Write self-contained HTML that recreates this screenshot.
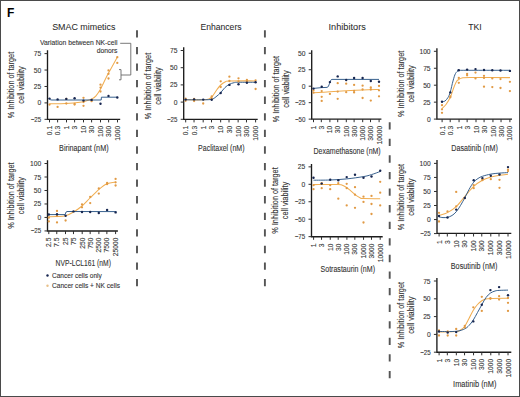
<!DOCTYPE html>
<html><head><meta charset="utf-8"><style>
html,body{margin:0;padding:0;background:#fff;}
.wrap{position:relative;width:520px;height:397px;overflow:hidden;background:#fff;}
svg{position:absolute;left:0;top:0;font-family:"Liberation Sans",sans-serif;}

.b{position:absolute;left:0;top:0;width:520px;height:397px;box-sizing:border-box;border:1px solid #4a4a4a;}
</style></head><body><div class="wrap">
<svg width="520" height="397" viewBox="0 0 520 397">
<path d="M47.50,50.30 V119.30 H120.20" fill="none" stroke="#1c1c1c" stroke-width="1.35"/>
<path d="M44.50,53.61 H47.50" stroke="#2e2e2e" stroke-width="1.0"/>
<text x="41.20" y="56.11" font-size="7.2" text-anchor="end" fill="#333333" textLength="7.45" lengthAdjust="spacingAndGlyphs" stroke="#333333" stroke-width="0.1">75</text>
<path d="M44.50,70.04 H47.50" stroke="#2e2e2e" stroke-width="1.0"/>
<text x="41.20" y="72.54" font-size="7.2" text-anchor="end" fill="#333333" textLength="7.45" lengthAdjust="spacingAndGlyphs" stroke="#333333" stroke-width="0.1">50</text>
<path d="M44.50,86.47 H47.50" stroke="#2e2e2e" stroke-width="1.0"/>
<text x="41.20" y="88.97" font-size="7.2" text-anchor="end" fill="#333333" textLength="7.45" lengthAdjust="spacingAndGlyphs" stroke="#333333" stroke-width="0.1">25</text>
<path d="M44.50,102.90 H47.50" stroke="#2e2e2e" stroke-width="1.0"/>
<text x="41.20" y="105.40" font-size="7.2" text-anchor="end" fill="#333333" textLength="3.72" lengthAdjust="spacingAndGlyphs" stroke="#333333" stroke-width="0.1">0</text>
<path d="M44.50,119.33 H47.50" stroke="#2e2e2e" stroke-width="1.0"/>
<text x="41.20" y="121.83" font-size="7.2" text-anchor="end" fill="#333333" textLength="10.46" lengthAdjust="spacingAndGlyphs" stroke="#333333" stroke-width="0.1">−25</text>
<path d="M49.50,119.30 V122.40" stroke="#2e2e2e" stroke-width="1.0"/>
<text transform="translate(52.05,125.90) rotate(-90)" font-size="7.7" text-anchor="end" fill="#333333" textLength="9.31" lengthAdjust="spacingAndGlyphs" stroke="#333333" stroke-width="0.1">0.1</text>
<path d="M57.61,119.30 V122.40" stroke="#2e2e2e" stroke-width="1.0"/>
<text transform="translate(60.16,125.90) rotate(-90)" font-size="7.7" text-anchor="end" fill="#333333" textLength="9.31" lengthAdjust="spacingAndGlyphs" stroke="#333333" stroke-width="0.1">0.3</text>
<path d="M66.50,119.30 V122.40" stroke="#2e2e2e" stroke-width="1.0"/>
<text transform="translate(69.05,125.90) rotate(-90)" font-size="7.7" text-anchor="end" fill="#333333" textLength="3.72" lengthAdjust="spacingAndGlyphs" stroke="#333333" stroke-width="0.1">1</text>
<path d="M74.61,119.30 V122.40" stroke="#2e2e2e" stroke-width="1.0"/>
<text transform="translate(77.16,125.90) rotate(-90)" font-size="7.7" text-anchor="end" fill="#333333" textLength="3.72" lengthAdjust="spacingAndGlyphs" stroke="#333333" stroke-width="0.1">3</text>
<path d="M83.50,119.30 V122.40" stroke="#2e2e2e" stroke-width="1.0"/>
<text transform="translate(86.05,125.90) rotate(-90)" font-size="7.7" text-anchor="end" fill="#333333" textLength="7.45" lengthAdjust="spacingAndGlyphs" stroke="#333333" stroke-width="0.1">10</text>
<path d="M91.61,119.30 V122.40" stroke="#2e2e2e" stroke-width="1.0"/>
<text transform="translate(94.16,125.90) rotate(-90)" font-size="7.7" text-anchor="end" fill="#333333" textLength="7.45" lengthAdjust="spacingAndGlyphs" stroke="#333333" stroke-width="0.1">30</text>
<path d="M100.50,119.30 V122.40" stroke="#2e2e2e" stroke-width="1.0"/>
<text transform="translate(103.05,125.90) rotate(-90)" font-size="7.7" text-anchor="end" fill="#333333" textLength="11.17" lengthAdjust="spacingAndGlyphs" stroke="#333333" stroke-width="0.1">100</text>
<path d="M108.61,119.30 V122.40" stroke="#2e2e2e" stroke-width="1.0"/>
<text transform="translate(111.16,125.90) rotate(-90)" font-size="7.7" text-anchor="end" fill="#333333" textLength="11.17" lengthAdjust="spacingAndGlyphs" stroke="#333333" stroke-width="0.1">300</text>
<path d="M117.50,119.30 V122.40" stroke="#2e2e2e" stroke-width="1.0"/>
<text transform="translate(120.05,125.90) rotate(-90)" font-size="7.7" text-anchor="end" fill="#333333" textLength="14.90" lengthAdjust="spacingAndGlyphs" stroke="#333333" stroke-width="0.1">1000</text>
<text x="83.85" y="150.90" font-size="8.3" text-anchor="middle" fill="#333333" textLength="49.50" lengthAdjust="spacingAndGlyphs" stroke="#333333" stroke-width="0.1">Birinapant (nM)</text>
<text transform="translate(14.30,85.00) rotate(-90)" font-size="8.5" text-anchor="middle" fill="#333333" textLength="66.30" lengthAdjust="spacingAndGlyphs" stroke="#333333" stroke-width="0.1">% Inhibition of target</text>
<text transform="translate(24.30,85.00) rotate(-90)" font-size="8.5" text-anchor="middle" fill="#333333" textLength="37.30" lengthAdjust="spacingAndGlyphs" stroke="#333333" stroke-width="0.1">cell viability</text>
<path d="M49.50,103.80 C52.25,103.75 60.92,103.77 66.00,103.50 C71.08,103.23 76.33,102.73 80.00,102.20 C83.67,101.67 86.00,100.85 88.00,100.30 C90.00,99.75 90.67,99.65 92.00,98.90 C93.33,98.15 94.67,97.27 96.00,95.80 C97.33,94.33 98.67,92.42 100.00,90.10 C101.33,87.78 102.58,84.73 104.00,81.90 C105.42,79.07 107.00,75.93 108.50,73.10 C110.00,70.27 111.53,67.55 113.00,64.90 C114.47,62.25 116.58,58.48 117.30,57.20" fill="none" stroke="#f1ae52" stroke-width="1.05"/>
<path d="M49.3,98.3 C49.8,99.6 50.6,100.0 52,100.0 L101.2,100.0 L101.4,97.2 L117.5,97.2" fill="none" stroke="#2d5888" stroke-width="0.95"/>
<circle cx="49.50" cy="104.60" r="1.15" fill="#e19a45"/>
<circle cx="57.60" cy="106.90" r="1.15" fill="#e19a45"/>
<circle cx="66.30" cy="103.50" r="1.15" fill="#e19a45"/>
<circle cx="66.30" cy="98.80" r="1.15" fill="#e19a45"/>
<circle cx="74.60" cy="103.80" r="1.15" fill="#e19a45"/>
<circle cx="74.60" cy="104.60" r="1.15" fill="#e19a45"/>
<circle cx="83.50" cy="97.80" r="1.15" fill="#e19a45"/>
<circle cx="83.50" cy="105.80" r="1.15" fill="#e19a45"/>
<circle cx="83.50" cy="102.10" r="1.15" fill="#e19a45"/>
<circle cx="91.60" cy="101.20" r="1.15" fill="#e19a45"/>
<circle cx="100.50" cy="84.70" r="1.15" fill="#e19a45"/>
<circle cx="100.50" cy="87.60" r="1.15" fill="#e19a45"/>
<circle cx="100.50" cy="91.50" r="1.15" fill="#e19a45"/>
<circle cx="108.50" cy="70.40" r="1.15" fill="#e19a45"/>
<circle cx="108.50" cy="73.80" r="1.15" fill="#e19a45"/>
<circle cx="108.50" cy="78.50" r="1.15" fill="#e19a45"/>
<circle cx="117.30" cy="57.20" r="1.15" fill="#e19a45"/>
<circle cx="117.30" cy="62.90" r="1.15" fill="#e19a45"/>
<circle cx="49.50" cy="98.60" r="1.2" fill="#172650"/>
<circle cx="57.60" cy="99.40" r="1.2" fill="#172650"/>
<circle cx="66.30" cy="98.90" r="1.2" fill="#172650"/>
<circle cx="74.60" cy="98.20" r="1.2" fill="#172650"/>
<circle cx="83.50" cy="100.60" r="1.2" fill="#172650"/>
<circle cx="91.60" cy="99.90" r="1.2" fill="#172650"/>
<circle cx="100.50" cy="103.70" r="1.2" fill="#172650"/>
<circle cx="108.50" cy="95.90" r="1.2" fill="#172650"/>
<circle cx="117.30" cy="97.50" r="1.2" fill="#172650"/>
<path d="M47.50,160.30 V231.00 H117.90" fill="none" stroke="#1c1c1c" stroke-width="1.35"/>
<path d="M44.50,163.53 H47.50" stroke="#2e2e2e" stroke-width="1.0"/>
<text x="41.20" y="166.03" font-size="7.2" text-anchor="end" fill="#333333" textLength="11.17" lengthAdjust="spacingAndGlyphs" stroke="#333333" stroke-width="0.1">100</text>
<path d="M44.50,177.01 H47.50" stroke="#2e2e2e" stroke-width="1.0"/>
<text x="41.20" y="179.51" font-size="7.2" text-anchor="end" fill="#333333" textLength="7.45" lengthAdjust="spacingAndGlyphs" stroke="#333333" stroke-width="0.1">75</text>
<path d="M44.50,190.49 H47.50" stroke="#2e2e2e" stroke-width="1.0"/>
<text x="41.20" y="192.99" font-size="7.2" text-anchor="end" fill="#333333" textLength="7.45" lengthAdjust="spacingAndGlyphs" stroke="#333333" stroke-width="0.1">50</text>
<path d="M44.50,203.97 H47.50" stroke="#2e2e2e" stroke-width="1.0"/>
<text x="41.20" y="206.47" font-size="7.2" text-anchor="end" fill="#333333" textLength="7.45" lengthAdjust="spacingAndGlyphs" stroke="#333333" stroke-width="0.1">25</text>
<path d="M44.50,217.45 H47.50" stroke="#2e2e2e" stroke-width="1.0"/>
<text x="41.20" y="219.95" font-size="7.2" text-anchor="end" fill="#333333" textLength="3.72" lengthAdjust="spacingAndGlyphs" stroke="#333333" stroke-width="0.1">0</text>
<path d="M44.50,230.93 H47.50" stroke="#2e2e2e" stroke-width="1.0"/>
<text x="41.20" y="233.43" font-size="7.2" text-anchor="end" fill="#333333" textLength="10.46" lengthAdjust="spacingAndGlyphs" stroke="#333333" stroke-width="0.1">−25</text>
<path d="M48.80,231.00 V234.10" stroke="#2e2e2e" stroke-width="1.0"/>
<text transform="translate(51.35,237.60) rotate(-90)" font-size="7.7" text-anchor="end" fill="#333333" textLength="9.31" lengthAdjust="spacingAndGlyphs" stroke="#333333" stroke-width="0.1">2.5</text>
<path d="M56.77,231.00 V234.10" stroke="#2e2e2e" stroke-width="1.0"/>
<text transform="translate(59.32,237.60) rotate(-90)" font-size="7.7" text-anchor="end" fill="#333333" textLength="9.31" lengthAdjust="spacingAndGlyphs" stroke="#333333" stroke-width="0.1">7.5</text>
<path d="M65.50,231.00 V234.10" stroke="#2e2e2e" stroke-width="1.0"/>
<text transform="translate(68.05,237.60) rotate(-90)" font-size="7.7" text-anchor="end" fill="#333333" textLength="7.45" lengthAdjust="spacingAndGlyphs" stroke="#333333" stroke-width="0.1">25</text>
<path d="M73.47,231.00 V234.10" stroke="#2e2e2e" stroke-width="1.0"/>
<text transform="translate(76.02,237.60) rotate(-90)" font-size="7.7" text-anchor="end" fill="#333333" textLength="7.45" lengthAdjust="spacingAndGlyphs" stroke="#333333" stroke-width="0.1">75</text>
<path d="M82.20,231.00 V234.10" stroke="#2e2e2e" stroke-width="1.0"/>
<text transform="translate(84.75,237.60) rotate(-90)" font-size="7.7" text-anchor="end" fill="#333333" textLength="11.17" lengthAdjust="spacingAndGlyphs" stroke="#333333" stroke-width="0.1">250</text>
<path d="M90.17,231.00 V234.10" stroke="#2e2e2e" stroke-width="1.0"/>
<text transform="translate(92.72,237.60) rotate(-90)" font-size="7.7" text-anchor="end" fill="#333333" textLength="11.17" lengthAdjust="spacingAndGlyphs" stroke="#333333" stroke-width="0.1">750</text>
<path d="M98.90,231.00 V234.10" stroke="#2e2e2e" stroke-width="1.0"/>
<text transform="translate(101.45,237.60) rotate(-90)" font-size="7.7" text-anchor="end" fill="#333333" textLength="14.90" lengthAdjust="spacingAndGlyphs" stroke="#333333" stroke-width="0.1">2500</text>
<path d="M106.87,231.00 V234.10" stroke="#2e2e2e" stroke-width="1.0"/>
<text transform="translate(109.42,237.60) rotate(-90)" font-size="7.7" text-anchor="end" fill="#333333" textLength="14.90" lengthAdjust="spacingAndGlyphs" stroke="#333333" stroke-width="0.1">7500</text>
<path d="M115.60,231.00 V234.10" stroke="#2e2e2e" stroke-width="1.0"/>
<text transform="translate(118.15,237.60) rotate(-90)" font-size="7.7" text-anchor="end" fill="#333333" textLength="18.62" lengthAdjust="spacingAndGlyphs" stroke="#333333" stroke-width="0.1">25000</text>
<text x="83.25" y="265.60" font-size="8.3" text-anchor="middle" fill="#333333" textLength="55.30" lengthAdjust="spacingAndGlyphs" stroke="#333333" stroke-width="0.1">NVP-LCL161 (nM)</text>
<text transform="translate(14.30,195.65) rotate(-90)" font-size="8.5" text-anchor="middle" fill="#333333" textLength="66.30" lengthAdjust="spacingAndGlyphs" stroke="#333333" stroke-width="0.1">% Inhibition of target</text>
<text transform="translate(24.30,195.65) rotate(-90)" font-size="8.5" text-anchor="middle" fill="#333333" textLength="37.30" lengthAdjust="spacingAndGlyphs" stroke="#333333" stroke-width="0.1">cell viability</text>
<path d="M48.50,216.80 C49.92,216.77 54.15,216.77 57.00,216.60 C59.85,216.43 62.85,216.57 65.60,215.80 C68.35,215.03 70.77,213.63 73.50,212.00 C76.23,210.37 79.25,208.33 82.00,206.00 C84.75,203.67 87.17,200.78 90.00,198.00 C92.83,195.22 96.17,191.67 99.00,189.30 C101.83,186.93 104.17,185.02 107.00,183.80 C109.83,182.58 114.50,182.30 116.00,182.00" fill="none" stroke="#f1ae52" stroke-width="1.05"/>
<path d="M47.8,214.6 L65.0,214.6 C65.6,214.6 65.4,211.6 67,211.5 L116.5,211.6" fill="none" stroke="#2d5888" stroke-width="0.95"/>
<circle cx="48.80" cy="217.70" r="1.15" fill="#e19a45"/>
<circle cx="48.80" cy="221.40" r="1.15" fill="#e19a45"/>
<circle cx="57.00" cy="211.00" r="1.15" fill="#e19a45"/>
<circle cx="57.00" cy="222.40" r="1.15" fill="#e19a45"/>
<circle cx="57.00" cy="216.00" r="1.15" fill="#e19a45"/>
<circle cx="65.60" cy="220.50" r="1.15" fill="#e19a45"/>
<circle cx="82.00" cy="204.40" r="1.15" fill="#e19a45"/>
<circle cx="82.00" cy="207.30" r="1.15" fill="#e19a45"/>
<circle cx="90.20" cy="196.90" r="1.15" fill="#e19a45"/>
<circle cx="90.20" cy="203.10" r="1.15" fill="#e19a45"/>
<circle cx="98.80" cy="188.40" r="1.15" fill="#e19a45"/>
<circle cx="98.80" cy="193.60" r="1.15" fill="#e19a45"/>
<circle cx="107.10" cy="183.00" r="1.15" fill="#e19a45"/>
<circle cx="107.10" cy="184.20" r="1.15" fill="#e19a45"/>
<circle cx="115.60" cy="178.90" r="1.15" fill="#e19a45"/>
<circle cx="115.60" cy="182.30" r="1.15" fill="#e19a45"/>
<circle cx="115.60" cy="185.50" r="1.15" fill="#e19a45"/>
<circle cx="48.80" cy="214.50" r="1.2" fill="#172650"/>
<circle cx="57.00" cy="214.30" r="1.2" fill="#172650"/>
<circle cx="65.60" cy="215.80" r="1.2" fill="#172650"/>
<circle cx="73.50" cy="211.40" r="1.2" fill="#172650"/>
<circle cx="82.00" cy="212.00" r="1.2" fill="#172650"/>
<circle cx="90.20" cy="212.00" r="1.2" fill="#172650"/>
<circle cx="98.80" cy="213.00" r="1.2" fill="#172650"/>
<circle cx="107.10" cy="210.00" r="1.2" fill="#172650"/>
<circle cx="115.60" cy="212.40" r="1.2" fill="#172650"/>
<path d="M183.70,47.30 V119.30 H257.70" fill="none" stroke="#1c1c1c" stroke-width="1.35"/>
<path d="M180.70,50.50 H183.70" stroke="#2e2e2e" stroke-width="1.0"/>
<text x="177.40" y="53.00" font-size="7.2" text-anchor="end" fill="#333333" textLength="7.45" lengthAdjust="spacingAndGlyphs" stroke="#333333" stroke-width="0.1">75</text>
<path d="M180.70,67.70 H183.70" stroke="#2e2e2e" stroke-width="1.0"/>
<text x="177.40" y="70.20" font-size="7.2" text-anchor="end" fill="#333333" textLength="7.45" lengthAdjust="spacingAndGlyphs" stroke="#333333" stroke-width="0.1">50</text>
<path d="M180.70,84.90 H183.70" stroke="#2e2e2e" stroke-width="1.0"/>
<text x="177.40" y="87.40" font-size="7.2" text-anchor="end" fill="#333333" textLength="7.45" lengthAdjust="spacingAndGlyphs" stroke="#333333" stroke-width="0.1">25</text>
<path d="M180.70,102.10 H183.70" stroke="#2e2e2e" stroke-width="1.0"/>
<text x="177.40" y="104.60" font-size="7.2" text-anchor="end" fill="#333333" textLength="3.72" lengthAdjust="spacingAndGlyphs" stroke="#333333" stroke-width="0.1">0</text>
<path d="M180.70,119.30 H183.70" stroke="#2e2e2e" stroke-width="1.0"/>
<text x="177.40" y="121.80" font-size="7.2" text-anchor="end" fill="#333333" textLength="10.46" lengthAdjust="spacingAndGlyphs" stroke="#333333" stroke-width="0.1">−25</text>
<path d="M185.70,119.30 V122.40" stroke="#2e2e2e" stroke-width="1.0"/>
<text transform="translate(188.25,125.90) rotate(-90)" font-size="7.7" text-anchor="end" fill="#333333" textLength="9.31" lengthAdjust="spacingAndGlyphs" stroke="#333333" stroke-width="0.1">0.1</text>
<path d="M194.04,119.30 V122.40" stroke="#2e2e2e" stroke-width="1.0"/>
<text transform="translate(196.59,125.90) rotate(-90)" font-size="7.7" text-anchor="end" fill="#333333" textLength="9.31" lengthAdjust="spacingAndGlyphs" stroke="#333333" stroke-width="0.1">0.3</text>
<path d="M203.18,119.30 V122.40" stroke="#2e2e2e" stroke-width="1.0"/>
<text transform="translate(205.73,125.90) rotate(-90)" font-size="7.7" text-anchor="end" fill="#333333" textLength="3.72" lengthAdjust="spacingAndGlyphs" stroke="#333333" stroke-width="0.1">1</text>
<path d="M211.52,119.30 V122.40" stroke="#2e2e2e" stroke-width="1.0"/>
<text transform="translate(214.07,125.90) rotate(-90)" font-size="7.7" text-anchor="end" fill="#333333" textLength="3.72" lengthAdjust="spacingAndGlyphs" stroke="#333333" stroke-width="0.1">3</text>
<path d="M220.66,119.30 V122.40" stroke="#2e2e2e" stroke-width="1.0"/>
<text transform="translate(223.21,125.90) rotate(-90)" font-size="7.7" text-anchor="end" fill="#333333" textLength="7.45" lengthAdjust="spacingAndGlyphs" stroke="#333333" stroke-width="0.1">10</text>
<path d="M229.00,119.30 V122.40" stroke="#2e2e2e" stroke-width="1.0"/>
<text transform="translate(231.55,125.90) rotate(-90)" font-size="7.7" text-anchor="end" fill="#333333" textLength="7.45" lengthAdjust="spacingAndGlyphs" stroke="#333333" stroke-width="0.1">30</text>
<path d="M238.14,119.30 V122.40" stroke="#2e2e2e" stroke-width="1.0"/>
<text transform="translate(240.69,125.90) rotate(-90)" font-size="7.7" text-anchor="end" fill="#333333" textLength="11.17" lengthAdjust="spacingAndGlyphs" stroke="#333333" stroke-width="0.1">100</text>
<path d="M246.48,119.30 V122.40" stroke="#2e2e2e" stroke-width="1.0"/>
<text transform="translate(249.03,125.90) rotate(-90)" font-size="7.7" text-anchor="end" fill="#333333" textLength="11.17" lengthAdjust="spacingAndGlyphs" stroke="#333333" stroke-width="0.1">300</text>
<path d="M255.62,119.30 V122.40" stroke="#2e2e2e" stroke-width="1.0"/>
<text transform="translate(258.17,125.90) rotate(-90)" font-size="7.7" text-anchor="end" fill="#333333" textLength="14.90" lengthAdjust="spacingAndGlyphs" stroke="#333333" stroke-width="0.1">1000</text>
<text x="221.30" y="150.90" font-size="8.3" text-anchor="middle" fill="#333333" textLength="46.40" lengthAdjust="spacingAndGlyphs" stroke="#333333" stroke-width="0.1">Paclitaxel (nM)</text>
<text transform="translate(150.50,86.00) rotate(-90)" font-size="8.5" text-anchor="middle" fill="#333333" textLength="66.30" lengthAdjust="spacingAndGlyphs" stroke="#333333" stroke-width="0.1">% Inhibition of target</text>
<text transform="translate(160.50,86.00) rotate(-90)" font-size="8.5" text-anchor="middle" fill="#333333" textLength="37.30" lengthAdjust="spacingAndGlyphs" stroke="#333333" stroke-width="0.1">cell viability</text>
<path d="M185.60,99.80 C188.50,99.80 199.10,99.93 203.00,99.80 C206.90,99.67 207.33,99.72 209.00,99.00 C210.67,98.28 211.67,97.08 213.00,95.50 C214.33,93.92 215.72,91.25 217.00,89.50 C218.28,87.75 219.37,86.25 220.70,85.00 C222.03,83.75 223.55,82.67 225.00,82.00 C226.45,81.33 224.23,81.18 229.40,81.00 C234.57,80.82 251.57,80.92 256.00,80.90" fill="none" stroke="#f1ae52" stroke-width="1.05"/>
<path d="M185.60,99.80 C188.50,99.80 198.65,99.88 203.00,99.80 C207.35,99.72 209.53,99.80 211.70,99.30 C213.87,98.80 214.50,97.92 216.00,96.80 C217.50,95.68 219.20,94.15 220.70,92.60 C222.20,91.05 223.55,88.88 225.00,87.50 C226.45,86.12 227.90,85.10 229.40,84.30 C230.90,83.50 232.48,83.03 234.00,82.70 C235.52,82.37 234.83,82.37 238.50,82.30 C242.17,82.23 253.08,82.30 256.00,82.30" fill="none" stroke="#2d5888" stroke-width="0.95"/>
<circle cx="185.60" cy="100.80" r="1.15" fill="#e19a45"/>
<circle cx="185.60" cy="98.60" r="1.15" fill="#e19a45"/>
<circle cx="194.10" cy="101.00" r="1.15" fill="#e19a45"/>
<circle cx="194.10" cy="98.80" r="1.15" fill="#e19a45"/>
<circle cx="203.20" cy="103.50" r="1.15" fill="#e19a45"/>
<circle cx="211.70" cy="98.40" r="1.15" fill="#e19a45"/>
<circle cx="211.70" cy="96.50" r="1.15" fill="#e19a45"/>
<circle cx="220.70" cy="81.30" r="1.15" fill="#e19a45"/>
<circle cx="220.70" cy="87.00" r="1.15" fill="#e19a45"/>
<circle cx="229.40" cy="76.70" r="1.15" fill="#e19a45"/>
<circle cx="229.40" cy="81.00" r="1.15" fill="#e19a45"/>
<circle cx="238.50" cy="78.30" r="1.15" fill="#e19a45"/>
<circle cx="238.50" cy="81.30" r="1.15" fill="#e19a45"/>
<circle cx="246.90" cy="81.30" r="1.15" fill="#e19a45"/>
<circle cx="246.90" cy="80.00" r="1.15" fill="#e19a45"/>
<circle cx="255.60" cy="80.30" r="1.15" fill="#e19a45"/>
<circle cx="255.60" cy="89.00" r="1.15" fill="#e19a45"/>
<circle cx="185.60" cy="99.60" r="1.2" fill="#172650"/>
<circle cx="194.10" cy="99.40" r="1.2" fill="#172650"/>
<circle cx="203.20" cy="99.60" r="1.2" fill="#172650"/>
<circle cx="211.70" cy="99.80" r="1.2" fill="#172650"/>
<circle cx="220.70" cy="93.00" r="1.2" fill="#172650"/>
<circle cx="229.40" cy="84.90" r="1.2" fill="#172650"/>
<circle cx="238.50" cy="84.30" r="1.2" fill="#172650"/>
<circle cx="246.90" cy="82.70" r="1.2" fill="#172650"/>
<circle cx="255.60" cy="82.30" r="1.2" fill="#172650"/>
<path d="M311.70,50.30 V119.10 H381.40" fill="none" stroke="#1c1c1c" stroke-width="1.35"/>
<path d="M308.70,53.26 H311.70" stroke="#2e2e2e" stroke-width="1.0"/>
<text x="305.40" y="55.76" font-size="7.2" text-anchor="end" fill="#333333" textLength="7.45" lengthAdjust="spacingAndGlyphs" stroke="#333333" stroke-width="0.1">50</text>
<path d="M308.70,69.73 H311.70" stroke="#2e2e2e" stroke-width="1.0"/>
<text x="305.40" y="72.23" font-size="7.2" text-anchor="end" fill="#333333" textLength="7.45" lengthAdjust="spacingAndGlyphs" stroke="#333333" stroke-width="0.1">25</text>
<path d="M308.70,86.20 H311.70" stroke="#2e2e2e" stroke-width="1.0"/>
<text x="305.40" y="88.70" font-size="7.2" text-anchor="end" fill="#333333" textLength="3.72" lengthAdjust="spacingAndGlyphs" stroke="#333333" stroke-width="0.1">0</text>
<path d="M308.70,102.67 H311.70" stroke="#2e2e2e" stroke-width="1.0"/>
<text x="305.40" y="105.17" font-size="7.2" text-anchor="end" fill="#333333" textLength="10.46" lengthAdjust="spacingAndGlyphs" stroke="#333333" stroke-width="0.1">−25</text>
<path d="M308.70,119.14 H311.70" stroke="#2e2e2e" stroke-width="1.0"/>
<text x="305.40" y="121.64" font-size="7.2" text-anchor="end" fill="#333333" textLength="10.46" lengthAdjust="spacingAndGlyphs" stroke="#333333" stroke-width="0.1">−50</text>
<path d="M313.50,119.10 V122.20" stroke="#2e2e2e" stroke-width="1.0"/>
<text transform="translate(316.05,125.90) rotate(-90)" font-size="7.7" text-anchor="end" fill="#333333" textLength="3.72" lengthAdjust="spacingAndGlyphs" stroke="#333333" stroke-width="0.1">1</text>
<path d="M321.32,119.10 V122.20" stroke="#2e2e2e" stroke-width="1.0"/>
<text transform="translate(323.87,125.90) rotate(-90)" font-size="7.7" text-anchor="end" fill="#333333" textLength="3.72" lengthAdjust="spacingAndGlyphs" stroke="#333333" stroke-width="0.1">3</text>
<path d="M329.90,119.10 V122.20" stroke="#2e2e2e" stroke-width="1.0"/>
<text transform="translate(332.45,125.90) rotate(-90)" font-size="7.7" text-anchor="end" fill="#333333" textLength="7.45" lengthAdjust="spacingAndGlyphs" stroke="#333333" stroke-width="0.1">10</text>
<path d="M337.72,119.10 V122.20" stroke="#2e2e2e" stroke-width="1.0"/>
<text transform="translate(340.27,125.90) rotate(-90)" font-size="7.7" text-anchor="end" fill="#333333" textLength="7.45" lengthAdjust="spacingAndGlyphs" stroke="#333333" stroke-width="0.1">30</text>
<path d="M346.30,119.10 V122.20" stroke="#2e2e2e" stroke-width="1.0"/>
<text transform="translate(348.85,125.90) rotate(-90)" font-size="7.7" text-anchor="end" fill="#333333" textLength="11.17" lengthAdjust="spacingAndGlyphs" stroke="#333333" stroke-width="0.1">100</text>
<path d="M354.12,119.10 V122.20" stroke="#2e2e2e" stroke-width="1.0"/>
<text transform="translate(356.67,125.90) rotate(-90)" font-size="7.7" text-anchor="end" fill="#333333" textLength="11.17" lengthAdjust="spacingAndGlyphs" stroke="#333333" stroke-width="0.1">300</text>
<path d="M362.70,119.10 V122.20" stroke="#2e2e2e" stroke-width="1.0"/>
<text transform="translate(365.25,125.90) rotate(-90)" font-size="7.7" text-anchor="end" fill="#333333" textLength="14.90" lengthAdjust="spacingAndGlyphs" stroke="#333333" stroke-width="0.1">1000</text>
<path d="M370.52,119.10 V122.20" stroke="#2e2e2e" stroke-width="1.0"/>
<text transform="translate(373.07,125.90) rotate(-90)" font-size="7.7" text-anchor="end" fill="#333333" textLength="14.90" lengthAdjust="spacingAndGlyphs" stroke="#333333" stroke-width="0.1">3000</text>
<path d="M379.10,119.10 V122.20" stroke="#2e2e2e" stroke-width="1.0"/>
<text transform="translate(381.65,125.90) rotate(-90)" font-size="7.7" text-anchor="end" fill="#333333" textLength="18.62" lengthAdjust="spacingAndGlyphs" stroke="#333333" stroke-width="0.1">10000</text>
<text x="347.10" y="154.30" font-size="8.3" text-anchor="middle" fill="#333333" textLength="67.20" lengthAdjust="spacingAndGlyphs" stroke="#333333" stroke-width="0.1">Dexamethasone (nM)</text>
<text transform="translate(278.50,89.05) rotate(-90)" font-size="8.5" text-anchor="middle" fill="#333333" textLength="66.30" lengthAdjust="spacingAndGlyphs" stroke="#333333" stroke-width="0.1">% Inhibition of target</text>
<text transform="translate(288.50,89.05) rotate(-90)" font-size="8.5" text-anchor="middle" fill="#333333" textLength="37.30" lengthAdjust="spacingAndGlyphs" stroke="#333333" stroke-width="0.1">cell viability</text>
<path d="M313.50,92.80 C316.25,92.63 324.58,92.13 330.00,91.80 C335.42,91.47 340.57,91.10 346.00,90.80 C351.43,90.50 357.10,90.22 362.60,90.00 C368.10,89.78 376.27,89.58 379.00,89.50" fill="none" stroke="#f1ae52" stroke-width="1.05"/>
<path d="M313.5,88.4 L321.7,87.6 L327,87.4 C329.5,87.3 329.5,79.4 332,79.4 L379,79.4" fill="none" stroke="#2d5888" stroke-width="0.95"/>
<circle cx="313.50" cy="90.30" r="1.15" fill="#e19a45"/>
<circle cx="313.50" cy="92.70" r="1.15" fill="#e19a45"/>
<circle cx="321.70" cy="91.10" r="1.15" fill="#e19a45"/>
<circle cx="321.70" cy="96.80" r="1.15" fill="#e19a45"/>
<circle cx="321.70" cy="100.90" r="1.15" fill="#e19a45"/>
<circle cx="329.90" cy="93.90" r="1.15" fill="#e19a45"/>
<circle cx="337.70" cy="83.20" r="1.15" fill="#e19a45"/>
<circle cx="337.70" cy="91.60" r="1.15" fill="#e19a45"/>
<circle cx="337.70" cy="98.80" r="1.15" fill="#e19a45"/>
<circle cx="346.20" cy="83.70" r="1.15" fill="#e19a45"/>
<circle cx="346.20" cy="92.20" r="1.15" fill="#e19a45"/>
<circle cx="354.10" cy="84.90" r="1.15" fill="#e19a45"/>
<circle cx="354.10" cy="90.80" r="1.15" fill="#e19a45"/>
<circle cx="354.10" cy="92.40" r="1.15" fill="#e19a45"/>
<circle cx="362.60" cy="85.70" r="1.15" fill="#e19a45"/>
<circle cx="362.60" cy="89.50" r="1.15" fill="#e19a45"/>
<circle cx="362.60" cy="98.00" r="1.15" fill="#e19a45"/>
<circle cx="370.80" cy="87.50" r="1.15" fill="#e19a45"/>
<circle cx="370.80" cy="89.50" r="1.15" fill="#e19a45"/>
<circle cx="370.80" cy="100.60" r="1.15" fill="#e19a45"/>
<circle cx="379.00" cy="85.90" r="1.15" fill="#e19a45"/>
<circle cx="379.00" cy="90.30" r="1.15" fill="#e19a45"/>
<circle cx="379.00" cy="96.30" r="1.15" fill="#e19a45"/>
<circle cx="313.50" cy="88.60" r="1.2" fill="#172650"/>
<circle cx="321.70" cy="86.70" r="1.2" fill="#172650"/>
<circle cx="329.90" cy="82.10" r="1.2" fill="#172650"/>
<circle cx="337.70" cy="76.40" r="1.2" fill="#172650"/>
<circle cx="346.20" cy="80.00" r="1.2" fill="#172650"/>
<circle cx="354.10" cy="78.00" r="1.2" fill="#172650"/>
<circle cx="362.60" cy="78.00" r="1.2" fill="#172650"/>
<circle cx="370.80" cy="81.00" r="1.2" fill="#172650"/>
<circle cx="379.00" cy="81.80" r="1.2" fill="#172650"/>
<path d="M311.50,164.00 V236.70 H382.70" fill="none" stroke="#1c1c1c" stroke-width="1.35"/>
<path d="M308.50,166.85 H311.50" stroke="#2e2e2e" stroke-width="1.0"/>
<text x="305.20" y="169.35" font-size="7.2" text-anchor="end" fill="#333333" textLength="7.45" lengthAdjust="spacingAndGlyphs" stroke="#333333" stroke-width="0.1">25</text>
<path d="M308.50,184.30 H311.50" stroke="#2e2e2e" stroke-width="1.0"/>
<text x="305.20" y="186.80" font-size="7.2" text-anchor="end" fill="#333333" textLength="3.72" lengthAdjust="spacingAndGlyphs" stroke="#333333" stroke-width="0.1">0</text>
<path d="M308.50,201.75 H311.50" stroke="#2e2e2e" stroke-width="1.0"/>
<text x="305.20" y="204.25" font-size="7.2" text-anchor="end" fill="#333333" textLength="10.46" lengthAdjust="spacingAndGlyphs" stroke="#333333" stroke-width="0.1">−25</text>
<path d="M308.50,219.20 H311.50" stroke="#2e2e2e" stroke-width="1.0"/>
<text x="305.20" y="221.70" font-size="7.2" text-anchor="end" fill="#333333" textLength="10.46" lengthAdjust="spacingAndGlyphs" stroke="#333333" stroke-width="0.1">−50</text>
<path d="M308.50,236.65 H311.50" stroke="#2e2e2e" stroke-width="1.0"/>
<text x="305.20" y="239.15" font-size="7.2" text-anchor="end" fill="#333333" textLength="10.46" lengthAdjust="spacingAndGlyphs" stroke="#333333" stroke-width="0.1">−75</text>
<path d="M313.60,236.70 V239.80" stroke="#2e2e2e" stroke-width="1.0"/>
<text transform="translate(316.15,243.60) rotate(-90)" font-size="7.7" text-anchor="end" fill="#333333" textLength="3.72" lengthAdjust="spacingAndGlyphs" stroke="#333333" stroke-width="0.1">1</text>
<path d="M321.54,236.70 V239.80" stroke="#2e2e2e" stroke-width="1.0"/>
<text transform="translate(324.09,243.60) rotate(-90)" font-size="7.7" text-anchor="end" fill="#333333" textLength="3.72" lengthAdjust="spacingAndGlyphs" stroke="#333333" stroke-width="0.1">3</text>
<path d="M330.25,236.70 V239.80" stroke="#2e2e2e" stroke-width="1.0"/>
<text transform="translate(332.80,243.60) rotate(-90)" font-size="7.7" text-anchor="end" fill="#333333" textLength="7.45" lengthAdjust="spacingAndGlyphs" stroke="#333333" stroke-width="0.1">10</text>
<path d="M338.19,236.70 V239.80" stroke="#2e2e2e" stroke-width="1.0"/>
<text transform="translate(340.74,243.60) rotate(-90)" font-size="7.7" text-anchor="end" fill="#333333" textLength="7.45" lengthAdjust="spacingAndGlyphs" stroke="#333333" stroke-width="0.1">30</text>
<path d="M346.90,236.70 V239.80" stroke="#2e2e2e" stroke-width="1.0"/>
<text transform="translate(349.45,243.60) rotate(-90)" font-size="7.7" text-anchor="end" fill="#333333" textLength="11.17" lengthAdjust="spacingAndGlyphs" stroke="#333333" stroke-width="0.1">100</text>
<path d="M354.84,236.70 V239.80" stroke="#2e2e2e" stroke-width="1.0"/>
<text transform="translate(357.39,243.60) rotate(-90)" font-size="7.7" text-anchor="end" fill="#333333" textLength="11.17" lengthAdjust="spacingAndGlyphs" stroke="#333333" stroke-width="0.1">300</text>
<path d="M363.55,236.70 V239.80" stroke="#2e2e2e" stroke-width="1.0"/>
<text transform="translate(366.10,243.60) rotate(-90)" font-size="7.7" text-anchor="end" fill="#333333" textLength="14.90" lengthAdjust="spacingAndGlyphs" stroke="#333333" stroke-width="0.1">1000</text>
<path d="M371.49,236.70 V239.80" stroke="#2e2e2e" stroke-width="1.0"/>
<text transform="translate(374.04,243.60) rotate(-90)" font-size="7.7" text-anchor="end" fill="#333333" textLength="14.90" lengthAdjust="spacingAndGlyphs" stroke="#333333" stroke-width="0.1">3000</text>
<path d="M380.20,236.70 V239.80" stroke="#2e2e2e" stroke-width="1.0"/>
<text transform="translate(382.75,243.60) rotate(-90)" font-size="7.7" text-anchor="end" fill="#333333" textLength="18.62" lengthAdjust="spacingAndGlyphs" stroke="#333333" stroke-width="0.1">10000</text>
<text x="347.75" y="271.60" font-size="8.3" text-anchor="middle" fill="#333333" textLength="54.50" lengthAdjust="spacingAndGlyphs" stroke="#333333" stroke-width="0.1">Sotrastaurin (nM)</text>
<text transform="translate(278.30,200.50) rotate(-90)" font-size="8.5" text-anchor="middle" fill="#333333" textLength="66.30" lengthAdjust="spacingAndGlyphs" stroke="#333333" stroke-width="0.1">% Inhibition of target</text>
<text transform="translate(288.30,200.50) rotate(-90)" font-size="8.5" text-anchor="middle" fill="#333333" textLength="37.30" lengthAdjust="spacingAndGlyphs" stroke="#333333" stroke-width="0.1">cell viability</text>
<path d="M313.50,184.60 C317.58,184.60 332.92,184.37 338.00,184.60 C343.08,184.83 342.00,185.07 344.00,186.00 C346.00,186.93 348.17,188.75 350.00,190.20 C351.83,191.65 353.33,193.43 355.00,194.70 C356.67,195.97 358.58,197.15 360.00,197.80 C361.42,198.45 360.13,198.45 363.50,198.60 C366.87,198.75 377.42,198.68 380.20,198.70" fill="none" stroke="#f1ae52" stroke-width="1.05"/>
<path d="M313.50,180.20 C316.25,180.17 324.47,180.22 330.00,180.00 C335.53,179.78 341.12,179.47 346.70,178.90 C352.28,178.33 359.37,177.32 363.50,176.60 C367.63,175.88 368.72,175.45 371.50,174.60 C374.28,173.75 378.75,172.02 380.20,171.50" fill="none" stroke="#2d5888" stroke-width="0.95"/>
<circle cx="313.50" cy="185.20" r="1.15" fill="#e19a45"/>
<circle cx="313.50" cy="189.20" r="1.15" fill="#e19a45"/>
<circle cx="321.70" cy="183.20" r="1.15" fill="#e19a45"/>
<circle cx="321.70" cy="188.20" r="1.15" fill="#e19a45"/>
<circle cx="330.20" cy="185.20" r="1.15" fill="#e19a45"/>
<circle cx="330.20" cy="189.20" r="1.15" fill="#e19a45"/>
<circle cx="338.30" cy="183.20" r="1.15" fill="#e19a45"/>
<circle cx="338.30" cy="198.70" r="1.15" fill="#e19a45"/>
<circle cx="346.70" cy="183.80" r="1.15" fill="#e19a45"/>
<circle cx="346.70" cy="188.20" r="1.15" fill="#e19a45"/>
<circle cx="346.70" cy="205.40" r="1.15" fill="#e19a45"/>
<circle cx="355.00" cy="187.20" r="1.15" fill="#e19a45"/>
<circle cx="355.00" cy="194.70" r="1.15" fill="#e19a45"/>
<circle cx="355.00" cy="207.80" r="1.15" fill="#e19a45"/>
<circle cx="363.50" cy="196.70" r="1.15" fill="#e19a45"/>
<circle cx="363.50" cy="201.90" r="1.15" fill="#e19a45"/>
<circle cx="363.50" cy="222.50" r="1.15" fill="#e19a45"/>
<circle cx="371.50" cy="195.90" r="1.15" fill="#e19a45"/>
<circle cx="371.50" cy="204.00" r="1.15" fill="#e19a45"/>
<circle cx="371.50" cy="214.00" r="1.15" fill="#e19a45"/>
<circle cx="380.20" cy="181.80" r="1.15" fill="#e19a45"/>
<circle cx="380.20" cy="192.70" r="1.15" fill="#e19a45"/>
<circle cx="380.20" cy="205.40" r="1.15" fill="#e19a45"/>
<circle cx="313.50" cy="177.70" r="1.2" fill="#172650"/>
<circle cx="321.70" cy="183.60" r="1.2" fill="#172650"/>
<circle cx="330.20" cy="179.80" r="1.2" fill="#172650"/>
<circle cx="338.30" cy="180.20" r="1.2" fill="#172650"/>
<circle cx="346.70" cy="177.10" r="1.2" fill="#172650"/>
<circle cx="355.00" cy="174.70" r="1.2" fill="#172650"/>
<circle cx="363.50" cy="177.70" r="1.2" fill="#172650"/>
<circle cx="371.50" cy="176.50" r="1.2" fill="#172650"/>
<circle cx="380.20" cy="170.70" r="1.2" fill="#172650"/>
<path d="M436.90,48.20 V119.10 H512.00" fill="none" stroke="#1c1c1c" stroke-width="1.35"/>
<path d="M433.90,51.30 H436.90" stroke="#2e2e2e" stroke-width="1.0"/>
<text x="430.60" y="53.80" font-size="7.2" text-anchor="end" fill="#333333" textLength="11.17" lengthAdjust="spacingAndGlyphs" stroke="#333333" stroke-width="0.1">100</text>
<path d="M433.90,68.25 H436.90" stroke="#2e2e2e" stroke-width="1.0"/>
<text x="430.60" y="70.75" font-size="7.2" text-anchor="end" fill="#333333" textLength="7.45" lengthAdjust="spacingAndGlyphs" stroke="#333333" stroke-width="0.1">75</text>
<path d="M433.90,85.20 H436.90" stroke="#2e2e2e" stroke-width="1.0"/>
<text x="430.60" y="87.70" font-size="7.2" text-anchor="end" fill="#333333" textLength="7.45" lengthAdjust="spacingAndGlyphs" stroke="#333333" stroke-width="0.1">50</text>
<path d="M433.90,102.15 H436.90" stroke="#2e2e2e" stroke-width="1.0"/>
<text x="430.60" y="104.65" font-size="7.2" text-anchor="end" fill="#333333" textLength="7.45" lengthAdjust="spacingAndGlyphs" stroke="#333333" stroke-width="0.1">25</text>
<path d="M433.90,119.10 H436.90" stroke="#2e2e2e" stroke-width="1.0"/>
<text x="430.60" y="121.60" font-size="7.2" text-anchor="end" fill="#333333" textLength="3.72" lengthAdjust="spacingAndGlyphs" stroke="#333333" stroke-width="0.1">0</text>
<path d="M442.10,119.10 V122.20" stroke="#2e2e2e" stroke-width="1.0"/>
<text transform="translate(444.65,125.90) rotate(-90)" font-size="7.7" text-anchor="end" fill="#333333" textLength="9.31" lengthAdjust="spacingAndGlyphs" stroke="#333333" stroke-width="0.1">0.1</text>
<path d="M450.19,119.10 V122.20" stroke="#2e2e2e" stroke-width="1.0"/>
<text transform="translate(452.74,125.90) rotate(-90)" font-size="7.7" text-anchor="end" fill="#333333" textLength="9.31" lengthAdjust="spacingAndGlyphs" stroke="#333333" stroke-width="0.1">0.3</text>
<path d="M459.05,119.10 V122.20" stroke="#2e2e2e" stroke-width="1.0"/>
<text transform="translate(461.60,125.90) rotate(-90)" font-size="7.7" text-anchor="end" fill="#333333" textLength="3.72" lengthAdjust="spacingAndGlyphs" stroke="#333333" stroke-width="0.1">1</text>
<path d="M467.14,119.10 V122.20" stroke="#2e2e2e" stroke-width="1.0"/>
<text transform="translate(469.69,125.90) rotate(-90)" font-size="7.7" text-anchor="end" fill="#333333" textLength="3.72" lengthAdjust="spacingAndGlyphs" stroke="#333333" stroke-width="0.1">3</text>
<path d="M476.00,119.10 V122.20" stroke="#2e2e2e" stroke-width="1.0"/>
<text transform="translate(478.55,125.90) rotate(-90)" font-size="7.7" text-anchor="end" fill="#333333" textLength="7.45" lengthAdjust="spacingAndGlyphs" stroke="#333333" stroke-width="0.1">10</text>
<path d="M484.09,119.10 V122.20" stroke="#2e2e2e" stroke-width="1.0"/>
<text transform="translate(486.64,125.90) rotate(-90)" font-size="7.7" text-anchor="end" fill="#333333" textLength="7.45" lengthAdjust="spacingAndGlyphs" stroke="#333333" stroke-width="0.1">30</text>
<path d="M492.95,119.10 V122.20" stroke="#2e2e2e" stroke-width="1.0"/>
<text transform="translate(495.50,125.90) rotate(-90)" font-size="7.7" text-anchor="end" fill="#333333" textLength="11.17" lengthAdjust="spacingAndGlyphs" stroke="#333333" stroke-width="0.1">100</text>
<path d="M501.04,119.10 V122.20" stroke="#2e2e2e" stroke-width="1.0"/>
<text transform="translate(503.59,125.90) rotate(-90)" font-size="7.7" text-anchor="end" fill="#333333" textLength="11.17" lengthAdjust="spacingAndGlyphs" stroke="#333333" stroke-width="0.1">300</text>
<path d="M509.90,119.10 V122.20" stroke="#2e2e2e" stroke-width="1.0"/>
<text transform="translate(512.45,125.90) rotate(-90)" font-size="7.7" text-anchor="end" fill="#333333" textLength="14.90" lengthAdjust="spacingAndGlyphs" stroke="#333333" stroke-width="0.1">1000</text>
<text x="474.55" y="150.90" font-size="8.3" text-anchor="middle" fill="#333333" textLength="46.50" lengthAdjust="spacingAndGlyphs" stroke="#333333" stroke-width="0.1">Dasatinib (nM)</text>
<text transform="translate(403.70,83.95) rotate(-90)" font-size="8.5" text-anchor="middle" fill="#333333" textLength="66.30" lengthAdjust="spacingAndGlyphs" stroke="#333333" stroke-width="0.1">% Inhibition of target</text>
<text transform="translate(413.70,83.95) rotate(-90)" font-size="8.5" text-anchor="middle" fill="#333333" textLength="37.30" lengthAdjust="spacingAndGlyphs" stroke="#333333" stroke-width="0.1">cell viability</text>
<path d="M442.00,108.70 C442.67,108.00 444.62,106.40 446.00,104.50 C447.38,102.60 448.97,100.22 450.30,97.30 C451.63,94.38 452.97,89.63 454.00,87.00 C455.03,84.37 455.70,82.75 456.50,81.50 C457.30,80.25 457.88,80.08 458.80,79.50 C459.72,78.92 460.13,78.32 462.00,78.00 C463.87,77.68 462.00,77.67 470.00,77.60 C478.00,77.53 503.33,77.60 510.00,77.60" fill="none" stroke="#f1ae52" stroke-width="1.05"/>
<path d="M442.00,101.70 C442.50,101.58 444.00,101.70 445.00,101.00 C446.00,100.30 447.12,99.00 448.00,97.50 C448.88,96.00 449.47,94.75 450.30,92.00 C451.13,89.25 452.13,84.08 453.00,81.00 C453.87,77.92 454.53,75.25 455.50,73.50 C456.47,71.75 457.72,71.03 458.80,70.50 C459.88,69.97 453.47,70.33 462.00,70.30 C470.53,70.27 502.00,70.30 510.00,70.30" fill="none" stroke="#2d5888" stroke-width="0.95"/>
<circle cx="442.00" cy="105.20" r="1.15" fill="#e19a45"/>
<circle cx="442.00" cy="109.30" r="1.15" fill="#e19a45"/>
<circle cx="442.00" cy="112.80" r="1.15" fill="#e19a45"/>
<circle cx="450.30" cy="97.30" r="1.15" fill="#e19a45"/>
<circle cx="450.30" cy="96.40" r="1.15" fill="#e19a45"/>
<circle cx="458.80" cy="77.90" r="1.15" fill="#e19a45"/>
<circle cx="458.80" cy="82.80" r="1.15" fill="#e19a45"/>
<circle cx="467.10" cy="74.00" r="1.15" fill="#e19a45"/>
<circle cx="467.10" cy="75.30" r="1.15" fill="#e19a45"/>
<circle cx="475.50" cy="72.60" r="1.15" fill="#e19a45"/>
<circle cx="475.50" cy="78.40" r="1.15" fill="#e19a45"/>
<circle cx="484.00" cy="75.80" r="1.15" fill="#e19a45"/>
<circle cx="484.00" cy="77.90" r="1.15" fill="#e19a45"/>
<circle cx="484.00" cy="86.70" r="1.15" fill="#e19a45"/>
<circle cx="492.30" cy="78.40" r="1.15" fill="#e19a45"/>
<circle cx="492.30" cy="87.10" r="1.15" fill="#e19a45"/>
<circle cx="500.50" cy="79.10" r="1.15" fill="#e19a45"/>
<circle cx="500.50" cy="88.00" r="1.15" fill="#e19a45"/>
<circle cx="509.90" cy="81.80" r="1.15" fill="#e19a45"/>
<circle cx="509.90" cy="91.10" r="1.15" fill="#e19a45"/>
<circle cx="442.00" cy="101.70" r="1.2" fill="#172650"/>
<circle cx="450.30" cy="92.40" r="1.2" fill="#172650"/>
<circle cx="458.80" cy="70.30" r="1.2" fill="#172650"/>
<circle cx="467.10" cy="69.60" r="1.2" fill="#172650"/>
<circle cx="475.50" cy="69.10" r="1.2" fill="#172650"/>
<circle cx="484.00" cy="70.00" r="1.2" fill="#172650"/>
<circle cx="492.30" cy="70.30" r="1.2" fill="#172650"/>
<circle cx="500.50" cy="70.50" r="1.2" fill="#172650"/>
<circle cx="509.90" cy="70.90" r="1.2" fill="#172650"/>
<path d="M437.00,160.00 V233.40 H511.30" fill="none" stroke="#1c1c1c" stroke-width="1.35"/>
<path d="M434.00,163.39 H437.00" stroke="#2e2e2e" stroke-width="1.0"/>
<text x="430.70" y="165.89" font-size="7.2" text-anchor="end" fill="#333333" textLength="11.17" lengthAdjust="spacingAndGlyphs" stroke="#333333" stroke-width="0.1">100</text>
<path d="M434.00,177.43 H437.00" stroke="#2e2e2e" stroke-width="1.0"/>
<text x="430.70" y="179.93" font-size="7.2" text-anchor="end" fill="#333333" textLength="7.45" lengthAdjust="spacingAndGlyphs" stroke="#333333" stroke-width="0.1">75</text>
<path d="M434.00,191.47 H437.00" stroke="#2e2e2e" stroke-width="1.0"/>
<text x="430.70" y="193.97" font-size="7.2" text-anchor="end" fill="#333333" textLength="7.45" lengthAdjust="spacingAndGlyphs" stroke="#333333" stroke-width="0.1">50</text>
<path d="M434.00,205.51 H437.00" stroke="#2e2e2e" stroke-width="1.0"/>
<text x="430.70" y="208.01" font-size="7.2" text-anchor="end" fill="#333333" textLength="7.45" lengthAdjust="spacingAndGlyphs" stroke="#333333" stroke-width="0.1">25</text>
<path d="M434.00,219.55 H437.00" stroke="#2e2e2e" stroke-width="1.0"/>
<text x="430.70" y="222.05" font-size="7.2" text-anchor="end" fill="#333333" textLength="3.72" lengthAdjust="spacingAndGlyphs" stroke="#333333" stroke-width="0.1">0</text>
<path d="M434.00,233.59 H437.00" stroke="#2e2e2e" stroke-width="1.0"/>
<text x="430.70" y="236.09" font-size="7.2" text-anchor="end" fill="#333333" textLength="10.46" lengthAdjust="spacingAndGlyphs" stroke="#333333" stroke-width="0.1">−25</text>
<path d="M439.10,233.40 V236.50" stroke="#2e2e2e" stroke-width="1.0"/>
<text transform="translate(441.65,240.30) rotate(-90)" font-size="7.7" text-anchor="end" fill="#333333" textLength="3.72" lengthAdjust="spacingAndGlyphs" stroke="#333333" stroke-width="0.1">1</text>
<path d="M447.32,233.40 V236.50" stroke="#2e2e2e" stroke-width="1.0"/>
<text transform="translate(449.87,240.30) rotate(-90)" font-size="7.7" text-anchor="end" fill="#333333" textLength="3.72" lengthAdjust="spacingAndGlyphs" stroke="#333333" stroke-width="0.1">3</text>
<path d="M456.33,233.40 V236.50" stroke="#2e2e2e" stroke-width="1.0"/>
<text transform="translate(458.88,240.30) rotate(-90)" font-size="7.7" text-anchor="end" fill="#333333" textLength="7.45" lengthAdjust="spacingAndGlyphs" stroke="#333333" stroke-width="0.1">10</text>
<path d="M464.55,233.40 V236.50" stroke="#2e2e2e" stroke-width="1.0"/>
<text transform="translate(467.10,240.30) rotate(-90)" font-size="7.7" text-anchor="end" fill="#333333" textLength="7.45" lengthAdjust="spacingAndGlyphs" stroke="#333333" stroke-width="0.1">30</text>
<path d="M473.56,233.40 V236.50" stroke="#2e2e2e" stroke-width="1.0"/>
<text transform="translate(476.11,240.30) rotate(-90)" font-size="7.7" text-anchor="end" fill="#333333" textLength="11.17" lengthAdjust="spacingAndGlyphs" stroke="#333333" stroke-width="0.1">100</text>
<path d="M481.78,233.40 V236.50" stroke="#2e2e2e" stroke-width="1.0"/>
<text transform="translate(484.33,240.30) rotate(-90)" font-size="7.7" text-anchor="end" fill="#333333" textLength="11.17" lengthAdjust="spacingAndGlyphs" stroke="#333333" stroke-width="0.1">300</text>
<path d="M490.79,233.40 V236.50" stroke="#2e2e2e" stroke-width="1.0"/>
<text transform="translate(493.34,240.30) rotate(-90)" font-size="7.7" text-anchor="end" fill="#333333" textLength="14.90" lengthAdjust="spacingAndGlyphs" stroke="#333333" stroke-width="0.1">1000</text>
<path d="M499.01,233.40 V236.50" stroke="#2e2e2e" stroke-width="1.0"/>
<text transform="translate(501.56,240.30) rotate(-90)" font-size="7.7" text-anchor="end" fill="#333333" textLength="14.90" lengthAdjust="spacingAndGlyphs" stroke="#333333" stroke-width="0.1">3000</text>
<path d="M508.02,233.40 V236.50" stroke="#2e2e2e" stroke-width="1.0"/>
<text transform="translate(510.57,240.30) rotate(-90)" font-size="7.7" text-anchor="end" fill="#333333" textLength="18.62" lengthAdjust="spacingAndGlyphs" stroke="#333333" stroke-width="0.1">10000</text>
<text x="474.10" y="268.60" font-size="8.3" text-anchor="middle" fill="#333333" textLength="46.60" lengthAdjust="spacingAndGlyphs" stroke="#333333" stroke-width="0.1">Bosutinib (nM)</text>
<text transform="translate(403.80,197.15) rotate(-90)" font-size="8.5" text-anchor="middle" fill="#333333" textLength="66.30" lengthAdjust="spacingAndGlyphs" stroke="#333333" stroke-width="0.1">% Inhibition of target</text>
<text transform="translate(413.80,197.15) rotate(-90)" font-size="8.5" text-anchor="middle" fill="#333333" textLength="37.30" lengthAdjust="spacingAndGlyphs" stroke="#333333" stroke-width="0.1">cell viability</text>
<path d="M439.00,215.40 C440.42,214.93 444.63,214.07 447.50,212.60 C450.37,211.13 453.32,209.28 456.20,206.60 C459.08,203.92 461.88,199.87 464.80,196.50 C467.72,193.13 470.77,189.12 473.70,186.40 C476.63,183.68 479.55,181.75 482.40,180.20 C485.25,178.65 487.95,177.92 490.80,177.10 C493.65,176.28 496.63,175.77 499.50,175.30 C502.37,174.83 506.58,174.47 508.00,174.30" fill="none" stroke="#f1ae52" stroke-width="1.05"/>
<path d="M439.00,216.90 C439.67,217.02 441.58,217.53 443.00,217.60 C444.42,217.67 446.00,217.65 447.50,217.30 C449.00,216.95 450.55,216.42 452.00,215.50 C453.45,214.58 454.78,213.47 456.20,211.80 C457.62,210.13 459.07,207.83 460.50,205.50 C461.93,203.17 463.38,200.47 464.80,197.80 C466.22,195.13 467.52,192.10 469.00,189.50 C470.48,186.90 472.20,184.03 473.70,182.20 C475.20,180.37 476.55,179.48 478.00,178.50 C479.45,177.52 480.27,177.03 482.40,176.30 C484.53,175.57 487.95,174.63 490.80,174.10 C493.65,173.57 496.63,173.35 499.50,173.10 C502.37,172.85 506.58,172.68 508.00,172.60" fill="none" stroke="#2d5888" stroke-width="0.95"/>
<circle cx="439.00" cy="212.80" r="1.15" fill="#e19a45"/>
<circle cx="439.00" cy="221.50" r="1.15" fill="#e19a45"/>
<circle cx="447.50" cy="211.40" r="1.15" fill="#e19a45"/>
<circle cx="456.20" cy="191.90" r="1.15" fill="#e19a45"/>
<circle cx="456.20" cy="206.40" r="1.15" fill="#e19a45"/>
<circle cx="464.80" cy="198.30" r="1.15" fill="#e19a45"/>
<circle cx="473.70" cy="185.20" r="1.15" fill="#e19a45"/>
<circle cx="473.70" cy="188.20" r="1.15" fill="#e19a45"/>
<circle cx="482.40" cy="179.20" r="1.15" fill="#e19a45"/>
<circle cx="482.40" cy="180.20" r="1.15" fill="#e19a45"/>
<circle cx="490.80" cy="179.20" r="1.15" fill="#e19a45"/>
<circle cx="499.50" cy="179.80" r="1.15" fill="#e19a45"/>
<circle cx="499.50" cy="187.80" r="1.15" fill="#e19a45"/>
<circle cx="508.00" cy="169.70" r="1.15" fill="#e19a45"/>
<circle cx="508.00" cy="171.10" r="1.15" fill="#e19a45"/>
<circle cx="439.00" cy="216.00" r="1.2" fill="#172650"/>
<circle cx="447.50" cy="217.50" r="1.2" fill="#172650"/>
<circle cx="456.20" cy="209.60" r="1.2" fill="#172650"/>
<circle cx="464.80" cy="197.90" r="1.2" fill="#172650"/>
<circle cx="473.70" cy="180.20" r="1.2" fill="#172650"/>
<circle cx="482.40" cy="178.10" r="1.2" fill="#172650"/>
<circle cx="490.80" cy="175.70" r="1.2" fill="#172650"/>
<circle cx="499.50" cy="174.50" r="1.2" fill="#172650"/>
<circle cx="508.00" cy="167.10" r="1.2" fill="#172650"/>
<path d="M436.90,278.10 V352.20 H511.30" fill="none" stroke="#1c1c1c" stroke-width="1.35"/>
<path d="M433.90,281.00 H436.90" stroke="#2e2e2e" stroke-width="1.0"/>
<text x="430.60" y="283.50" font-size="7.2" text-anchor="end" fill="#333333" textLength="7.45" lengthAdjust="spacingAndGlyphs" stroke="#333333" stroke-width="0.1">75</text>
<path d="M433.90,298.80 H436.90" stroke="#2e2e2e" stroke-width="1.0"/>
<text x="430.60" y="301.30" font-size="7.2" text-anchor="end" fill="#333333" textLength="7.45" lengthAdjust="spacingAndGlyphs" stroke="#333333" stroke-width="0.1">50</text>
<path d="M433.90,316.60 H436.90" stroke="#2e2e2e" stroke-width="1.0"/>
<text x="430.60" y="319.10" font-size="7.2" text-anchor="end" fill="#333333" textLength="7.45" lengthAdjust="spacingAndGlyphs" stroke="#333333" stroke-width="0.1">25</text>
<path d="M433.90,334.40 H436.90" stroke="#2e2e2e" stroke-width="1.0"/>
<text x="430.60" y="336.90" font-size="7.2" text-anchor="end" fill="#333333" textLength="3.72" lengthAdjust="spacingAndGlyphs" stroke="#333333" stroke-width="0.1">0</text>
<path d="M433.90,352.20 H436.90" stroke="#2e2e2e" stroke-width="1.0"/>
<text x="430.60" y="354.70" font-size="7.2" text-anchor="end" fill="#333333" textLength="10.46" lengthAdjust="spacingAndGlyphs" stroke="#333333" stroke-width="0.1">−25</text>
<path d="M439.10,352.20 V355.30" stroke="#2e2e2e" stroke-width="1.0"/>
<text transform="translate(441.65,358.90) rotate(-90)" font-size="7.7" text-anchor="end" fill="#333333" textLength="3.72" lengthAdjust="spacingAndGlyphs" stroke="#333333" stroke-width="0.1">1</text>
<path d="M447.32,352.20 V355.30" stroke="#2e2e2e" stroke-width="1.0"/>
<text transform="translate(449.87,358.90) rotate(-90)" font-size="7.7" text-anchor="end" fill="#333333" textLength="3.72" lengthAdjust="spacingAndGlyphs" stroke="#333333" stroke-width="0.1">3</text>
<path d="M456.33,352.20 V355.30" stroke="#2e2e2e" stroke-width="1.0"/>
<text transform="translate(458.88,358.90) rotate(-90)" font-size="7.7" text-anchor="end" fill="#333333" textLength="7.45" lengthAdjust="spacingAndGlyphs" stroke="#333333" stroke-width="0.1">10</text>
<path d="M464.55,352.20 V355.30" stroke="#2e2e2e" stroke-width="1.0"/>
<text transform="translate(467.10,358.90) rotate(-90)" font-size="7.7" text-anchor="end" fill="#333333" textLength="7.45" lengthAdjust="spacingAndGlyphs" stroke="#333333" stroke-width="0.1">30</text>
<path d="M473.56,352.20 V355.30" stroke="#2e2e2e" stroke-width="1.0"/>
<text transform="translate(476.11,358.90) rotate(-90)" font-size="7.7" text-anchor="end" fill="#333333" textLength="11.17" lengthAdjust="spacingAndGlyphs" stroke="#333333" stroke-width="0.1">100</text>
<path d="M481.78,352.20 V355.30" stroke="#2e2e2e" stroke-width="1.0"/>
<text transform="translate(484.33,358.90) rotate(-90)" font-size="7.7" text-anchor="end" fill="#333333" textLength="11.17" lengthAdjust="spacingAndGlyphs" stroke="#333333" stroke-width="0.1">300</text>
<path d="M490.79,352.20 V355.30" stroke="#2e2e2e" stroke-width="1.0"/>
<text transform="translate(493.34,358.90) rotate(-90)" font-size="7.7" text-anchor="end" fill="#333333" textLength="14.90" lengthAdjust="spacingAndGlyphs" stroke="#333333" stroke-width="0.1">1000</text>
<path d="M499.01,352.20 V355.30" stroke="#2e2e2e" stroke-width="1.0"/>
<text transform="translate(501.56,358.90) rotate(-90)" font-size="7.7" text-anchor="end" fill="#333333" textLength="14.90" lengthAdjust="spacingAndGlyphs" stroke="#333333" stroke-width="0.1">3000</text>
<path d="M508.02,352.20 V355.30" stroke="#2e2e2e" stroke-width="1.0"/>
<text transform="translate(510.57,358.90) rotate(-90)" font-size="7.7" text-anchor="end" fill="#333333" textLength="18.62" lengthAdjust="spacingAndGlyphs" stroke="#333333" stroke-width="0.1">10000</text>
<text x="474.75" y="387.10" font-size="8.3" text-anchor="middle" fill="#333333" textLength="43.30" lengthAdjust="spacingAndGlyphs" stroke="#333333" stroke-width="0.1">Imatinib (nM)</text>
<text transform="translate(403.70,315.20) rotate(-90)" font-size="8.5" text-anchor="middle" fill="#333333" textLength="66.30" lengthAdjust="spacingAndGlyphs" stroke="#333333" stroke-width="0.1">% Inhibition of target</text>
<text transform="translate(413.70,315.20) rotate(-90)" font-size="8.5" text-anchor="middle" fill="#333333" textLength="37.30" lengthAdjust="spacingAndGlyphs" stroke="#333333" stroke-width="0.1">cell viability</text>
<path d="M439.00,332.00 C441.87,331.93 452.62,331.93 456.20,331.60 C459.78,331.27 459.07,330.90 460.50,330.00 C461.93,329.10 463.38,328.12 464.80,326.20 C466.22,324.28 467.58,321.15 469.00,318.50 C470.42,315.85 471.88,312.63 473.30,310.30 C474.72,307.97 476.08,306.08 477.50,304.50 C478.92,302.92 480.38,301.72 481.80,300.80 C483.22,299.88 484.57,299.40 486.00,299.00 C487.43,298.60 486.73,298.53 490.40,298.40 C494.07,298.27 505.07,298.23 508.00,298.20" fill="none" stroke="#f1ae52" stroke-width="1.05"/>
<path d="M439.00,331.50 C441.87,331.47 451.90,331.75 456.20,331.30 C460.50,330.85 462.67,329.77 464.80,328.80 C466.93,327.83 467.58,326.97 469.00,325.50 C470.42,324.03 471.88,322.17 473.30,320.00 C474.72,317.83 476.08,315.03 477.50,312.50 C478.92,309.97 480.38,307.30 481.80,304.80 C483.22,302.30 484.57,299.45 486.00,297.50 C487.43,295.55 488.90,294.18 490.40,293.10 C491.90,292.02 493.55,291.45 495.00,291.00 C496.45,290.55 496.93,290.55 499.10,290.40 C501.27,290.25 506.52,290.15 508.00,290.10" fill="none" stroke="#2d5888" stroke-width="0.95"/>
<circle cx="439.00" cy="330.40" r="1.15" fill="#e19a45"/>
<circle cx="439.00" cy="335.50" r="1.15" fill="#e19a45"/>
<circle cx="447.70" cy="331.50" r="1.15" fill="#e19a45"/>
<circle cx="447.70" cy="335.50" r="1.15" fill="#e19a45"/>
<circle cx="456.20" cy="329.00" r="1.15" fill="#e19a45"/>
<circle cx="456.20" cy="335.50" r="1.15" fill="#e19a45"/>
<circle cx="464.80" cy="325.80" r="1.15" fill="#e19a45"/>
<circle cx="464.80" cy="327.40" r="1.15" fill="#e19a45"/>
<circle cx="473.30" cy="307.30" r="1.15" fill="#e19a45"/>
<circle cx="481.80" cy="296.80" r="1.15" fill="#e19a45"/>
<circle cx="481.80" cy="310.90" r="1.15" fill="#e19a45"/>
<circle cx="490.40" cy="298.20" r="1.15" fill="#e19a45"/>
<circle cx="490.40" cy="298.80" r="1.15" fill="#e19a45"/>
<circle cx="499.10" cy="296.20" r="1.15" fill="#e19a45"/>
<circle cx="499.10" cy="299.60" r="1.15" fill="#e19a45"/>
<circle cx="508.00" cy="302.80" r="1.15" fill="#e19a45"/>
<circle cx="508.00" cy="310.90" r="1.15" fill="#e19a45"/>
<circle cx="508.00" cy="298.00" r="1.15" fill="#e19a45"/>
<circle cx="439.00" cy="331.50" r="1.2" fill="#172650"/>
<circle cx="447.70" cy="332.50" r="1.2" fill="#172650"/>
<circle cx="456.20" cy="332.10" r="1.2" fill="#172650"/>
<circle cx="473.30" cy="321.40" r="1.2" fill="#172650"/>
<circle cx="481.80" cy="304.80" r="1.2" fill="#172650"/>
<circle cx="490.40" cy="290.10" r="1.2" fill="#172650"/>
<circle cx="499.10" cy="287.10" r="1.2" fill="#172650"/>
<circle cx="508.00" cy="295.20" r="1.2" fill="#172650"/>
<text x="83.80" y="30.40" font-size="9.3" text-anchor="middle" fill="#2a2a2a" textLength="63.30" lengthAdjust="spacingAndGlyphs" stroke="#2a2a2a" stroke-width="0.05">SMAC mimetics</text>
<text x="221.00" y="30.40" font-size="9.3" text-anchor="middle" fill="#2a2a2a" textLength="41.20" lengthAdjust="spacingAndGlyphs" stroke="#2a2a2a" stroke-width="0.05">Enhancers</text>
<text x="347.20" y="30.40" font-size="9.3" text-anchor="middle" fill="#2a2a2a" textLength="37.30" lengthAdjust="spacingAndGlyphs" stroke="#2a2a2a" stroke-width="0.05">Inhibitors</text>
<text x="474.90" y="30.40" font-size="9.3" text-anchor="middle" fill="#2a2a2a" textLength="13.50" lengthAdjust="spacingAndGlyphs" stroke="#2a2a2a" stroke-width="0.05">TKI</text>
<text x="7.00" y="16.80" font-size="12.0" text-anchor="start" fill="#000" font-weight="bold">F</text>
<text x="117.50" y="45.20" font-size="6.7" text-anchor="end" fill="#333333" textLength="77.50" lengthAdjust="spacingAndGlyphs" stroke="#333333" stroke-width="0.1">Variation between NK-cell</text>
<text x="117.50" y="52.80" font-size="6.7" text-anchor="end" fill="#333333" textLength="20.80" lengthAdjust="spacingAndGlyphs" stroke="#333333" stroke-width="0.1">donors</text>
<path d="M120.2,43.3 H130.8 V75.0 H121.0 M119.0,69.6 H121.0 V79.8 H119.0" fill="none" stroke="#6a6a6a" stroke-width="0.9"/>
<circle cx="47.5" cy="275.5" r="1.2" fill="#172650"/>
<circle cx="47.5" cy="285.8" r="1.2" fill="#e8c089"/>
<text x="52.00" y="278.00" font-size="7.0" text-anchor="start" fill="#333333" textLength="49.80" lengthAdjust="spacingAndGlyphs" stroke="#333333" stroke-width="0.1">Cancer cells only</text>
<text x="52.00" y="288.30" font-size="7.0" text-anchor="start" fill="#333333" textLength="68.00" lengthAdjust="spacingAndGlyphs" stroke="#333333" stroke-width="0.1">Cancer cells + NK cells</text>
<path d="M137.0,30.30 v7.3 M137.0,46.88 v7.3 M137.0,63.46 v7.3 M137.0,80.04 v7.3 M137.0,96.62 v7.3 M137.0,113.20 v7.3 M137.0,129.78 v7.3 M137.0,146.36 v7.3 M137.0,162.94 v7.3 M137.0,179.52 v7.3 M137.0,196.10 v7.3 M137.0,212.68 v7.3 M137.0,229.26 v7.3 M137.0,245.84 v7.3 M137.0,262.42 v7.3 M137.0,279.00 v7.3" stroke="#555555" stroke-width="1.9" fill="none"/>
<path d="M264.9,30.30 v7.3 M264.9,46.88 v7.3 M264.9,63.46 v7.3 M264.9,80.04 v7.3 M264.9,96.62 v7.3 M264.9,113.20 v7.3 M264.9,129.78 v7.3 M264.9,146.36 v7.3 M264.9,162.94 v7.3 M264.9,179.52 v7.3 M264.9,196.10 v7.3 M264.9,212.68 v7.3 M264.9,229.26 v7.3 M264.9,245.84 v7.3 M264.9,262.42 v7.3 M264.9,279.00 v7.3" stroke="#555555" stroke-width="1.9" fill="none"/>
<path d="M389.7,122.20 v7.3 M389.7,138.78 v7.3 M389.7,155.36 v7.3 M389.7,171.94 v7.3 M389.7,188.52 v7.3 M389.7,205.10 v7.3 M389.7,221.68 v7.3 M389.7,238.26 v7.3 M389.7,254.84 v7.3 M389.7,271.42 v7.3 M389.7,288.00 v7.3 M389.7,304.58 v7.3 M389.7,321.16 v7.3 M389.7,337.74 v7.3 M389.7,354.32 v7.3 M389.7,370.90 v7.3" stroke="#555555" stroke-width="1.9" fill="none"/>
</svg><div class="b"></div></div></body></html>
